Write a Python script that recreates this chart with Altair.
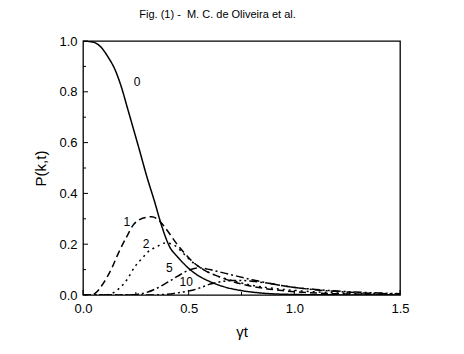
import altair as alt
import pandas as pd

# ---- data ----
t0 = [0, 0.05, 0.08, 0.12, 0.15, 0.18, 0.21, 0.24, 0.27, 0.30, 0.34, 0.37, 0.41, 0.45, 0.50, 0.55, 0.60, 0.665, 0.76, 0.855, 1.0, 1.2, 1.5]
p0 = [1.0, 0.995, 0.98, 0.935, 0.89, 0.823, 0.737, 0.65, 0.562, 0.472, 0.364, 0.278, 0.19, 0.148, 0.105, 0.074, 0.053, 0.033, 0.016, 0.007, 0.002, 0.0005, 0.0]

t1 = [0, 0.04, 0.057, 0.096, 0.136, 0.167, 0.207, 0.238, 0.27, 0.30, 0.325, 0.35, 0.365, 0.397, 0.436, 0.48, 0.52, 0.57, 0.65, 0.75, 0.85, 1.0, 1.15, 1.3, 1.5]
p1 = [0, 0, 0.006, 0.046, 0.105, 0.164, 0.23, 0.276, 0.298, 0.306, 0.308, 0.30, 0.289, 0.256, 0.21, 0.165, 0.13, 0.10, 0.07, 0.043, 0.027, 0.013, 0.006, 0.003, 0.001]

t2 = [0, 0.1, 0.13, 0.17, 0.207, 0.246, 0.28, 0.309, 0.349, 0.39, 0.43, 0.47, 0.51, 0.56, 0.62, 0.7, 0.8, 0.9, 1.0, 1.15, 1.3, 1.5]
p2 = [0, 0, 0.004, 0.025, 0.059, 0.112, 0.145, 0.171, 0.19, 0.205, 0.197, 0.168, 0.135, 0.105, 0.08, 0.058, 0.038, 0.026, 0.018, 0.01, 0.005, 0.002]

t5 = [0, 0.22, 0.26, 0.3, 0.365, 0.41, 0.444, 0.5, 0.546, 0.6, 0.65, 0.7, 0.8, 0.9, 1.0, 1.15, 1.3, 1.5]
p5 = [0, 0, 0.003, 0.01, 0.033, 0.055, 0.072, 0.098, 0.107, 0.1, 0.09, 0.08, 0.06, 0.043, 0.03, 0.017, 0.009, 0.004]

t10 = [0, 0.33, 0.38, 0.43, 0.48, 0.523, 0.56, 0.602, 0.65, 0.7, 0.75, 0.8, 0.886, 0.97, 1.1, 1.25, 1.4, 1.5]
p10 = [0, 0, 0.002, 0.006, 0.013, 0.02, 0.03, 0.043, 0.052, 0.057, 0.057, 0.054, 0.045, 0.033, 0.022, 0.013, 0.008, 0.005]

series_names = ["0", "1", "2", "5", "10"]

label_text = ["0", "1", "2", "5", "10"]
label_t = [0.256, 0.207, 0.299, 0.408, 0.488]
label_p = [0.839, 0.289, 0.2, 0.106, 0.05]

x_ticks_major = [0.0, 0.5, 1.0, 1.5]
x_ticks_minor = [0.25, 0.75, 1.25]
y_ticks_major = [0.0, 0.2, 0.4, 0.6, 0.8, 1.0]
y_ticks_minor = [0.1, 0.3, 0.5, 0.7, 0.9]

# ---- build tables ----
rows = []
for name, ts, ps in zip(series_names, [t0, t1, t2, t5, t10], [p0, p1, p2, p5, p10]):
    for t, p in zip(ts, ps):
        rows.append({"series": name, "t": t, "P": p})
df = pd.DataFrame(rows)
labels = pd.DataFrame({"text": label_text, "t": label_t, "P": label_p})

W, H = 317, 254
FONT = "Liberation Sans"

xscale = alt.Scale(domain=[0, 1.5], nice=False, zero=False)
yscale = alt.Scale(domain=[0, 1.0], nice=False, zero=False)

lines = alt.Chart(df).mark_line(color="black", strokeWidth=1.5, interpolate="monotone", clip=True).encode(
    x=alt.X("t:Q", scale=xscale,
            axis=alt.Axis(title="γt", values=x_ticks_major, format=".1f", ticks=False, domain=False,
                          grid=False, labelPadding=7, titlePadding=9, titleFontSize=15, labelFlush=False)),
    y=alt.Y("P:Q", scale=yscale,
            axis=alt.Axis(title="P(k,t)", values=y_ticks_major, format=".1f", ticks=False, domain=False,
                          grid=False, labelPadding=6, titlePadding=10, titleFontSize=15, labelFlush=False)),
    strokeDash=alt.StrokeDash("series:N", scale=alt.Scale(domain=series_names,
                              range=[[1, 0], [7, 4], [2, 4], [8, 3, 2, 3], [8, 3, 2, 3, 2, 3]]), legend=None),
    detail="series:N",
)

text = alt.Chart(labels).mark_text(font=FONT, fontSize=12, fill="black", color="black").encode(
    x="t:Q", y="P:Q", text="text:N"
)

ytM = alt.Chart(pd.DataFrame({"v": y_ticks_major})).mark_rule(color="black", strokeWidth=1).encode(
    y="v:Q", x=alt.value(0), x2=alt.value(5))
ytm = alt.Chart(pd.DataFrame({"v": y_ticks_minor})).mark_rule(color="black", strokeWidth=1).encode(
    y="v:Q", x=alt.value(0), x2=alt.value(3))
xtM = alt.Chart(pd.DataFrame({"v": x_ticks_major})).mark_rule(color="black", strokeWidth=1).encode(
    x="v:Q", y=alt.value(H), y2=alt.value(H - 5))
xtm = alt.Chart(pd.DataFrame({"v": x_ticks_minor})).mark_rule(color="black", strokeWidth=1).encode(
    x="v:Q", y=alt.value(H), y2=alt.value(H - 3))

chart = alt.layer(lines, text, ytM, ytm, xtM, xtm).properties(
    width=W, height=H,
    title=alt.TitleParams("Fig. (1) -\u00a0\u00a0M. C. de Oliveira et al.", font=FONT, fontSize=11,
                          fontWeight="normal", color="black", anchor="middle", dx=-24, offset=15),
    autosize=alt.AutoSizeParams(type="none"),
    padding={"left": 75, "top": 33, "right": 40, "bottom": 50},
).configure_view(stroke="black", strokeWidth=1.3).configure_axis(
    labelFont=FONT, labelFontSize=13, labelColor="black", titleFont=FONT, titleColor="black",
    titleFontWeight="normal"
)

chart.save("out.html", embed_options={"renderer": "svg", "actions": False})
